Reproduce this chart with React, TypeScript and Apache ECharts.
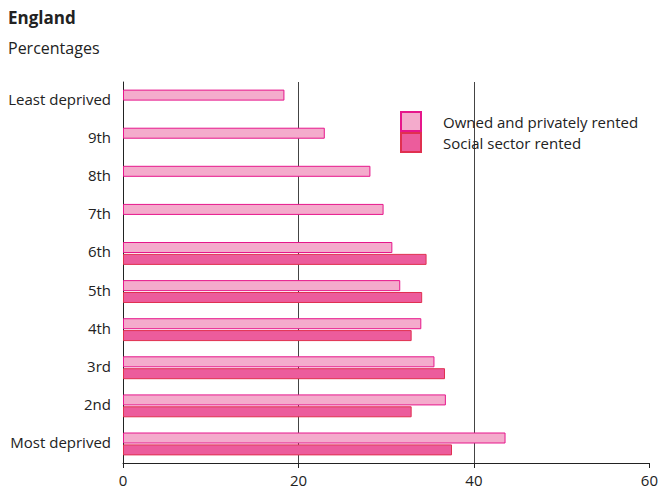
import React, { useEffect, useRef } from "react";
import * as echarts from "echarts";

const categories = ["Least deprived", "9th", "8th", "7th", "6th", "5th", "4th", "3rd", "2nd", "Most deprived"];
const ownedPrivate = [18.4, 23.0, 28.2, 29.7, 30.7, 31.6, 34.0, 35.5, 36.8, 43.6];
const socialRented = [null, null, null, null, 34.6, 34.1, 32.9, 36.7, 32.9, 37.5];
const seriesNames = ["Owned and privately rented", "Social sector rented"];
const xTicks = [0, 20, 40, 60];

const FONT = "Open Sans";

export default function App() {
  const ref = useRef<HTMLDivElement>(null);
  useEffect(() => {
    if (!ref.current) return;
    const chart = echarts.init(ref.current, null, { renderer: "svg" });
    chart.setOption({
      animation: false,
      textStyle: { fontFamily: FONT },
      title: [
        { text: "England", left: 8, top: 9, padding: 0, textStyle: { fontFamily: FONT, fontSize: 17, fontWeight: "bold", color: "#222" } },
        { text: "Percentages", left: 8, top: 40, padding: 0, textStyle: { fontFamily: FONT, fontSize: 16, fontWeight: "normal", color: "#222" } },
      ],
      legend: {
        orient: "vertical",
        left: 400,
        top: 111,
        padding: 0,
        itemGap: 0,
        itemWidth: 20,
        itemHeight: 19,
        icon: "rect",
        data: seriesNames,
        textStyle: { fontFamily: FONT, fontSize: 15, color: "#222", padding: [0, 0, 0, 17], lineHeight: 15 },
      },
      grid: { left: 123, top: 82, width: 530, height: 381, containLabel: false },
      xAxis: {
        type: "value",
        min: xTicks[0],
        max: xTicks[xTicks.length - 1],
        interval: 20,
        axisLine: { show: true, lineStyle: { color: "#222", width: 1 } },
        axisTick: { show: true, length: 5, lineStyle: { color: "#222" } },
        axisLabel: { fontFamily: FONT, fontSize: 15, color: "#222", margin: 9 },
        splitLine: { show: true, showMinLine: false, showMaxLine: false, lineStyle: { color: "#444", width: 1 } },
      },
      yAxis: {
        type: "category",
        inverse: true,
        data: categories,
        axisLine: { show: true, lineStyle: { color: "#222", width: 1 } },
        axisTick: { show: false },
        axisLabel: { fontFamily: FONT, fontSize: 15, color: "#222", margin: 12, verticalAlign: "bottom", lineHeight: 4 },
      },
      series: [
        {
          name: seriesNames[0],
          type: "bar",
          data: ownedPrivate,
          barWidth: 11,
          barGap: "8%",
          itemStyle: { color: "#f4abcc", borderColor: "#e6168b", borderWidth: 1 },
        },
        {
          name: seriesNames[1],
          type: "bar",
          data: socialRented,
          barWidth: 11,
          barGap: "8%",
          itemStyle: { color: "#ec5c9c", borderColor: "#e03050", borderWidth: 1 },
        },
      ],
    });
    return () => chart.dispose();
  }, []);
  return <div ref={ref} style={{ position: "absolute", left: 0, top: 0, width: 661, height: 491 }} />;
}
